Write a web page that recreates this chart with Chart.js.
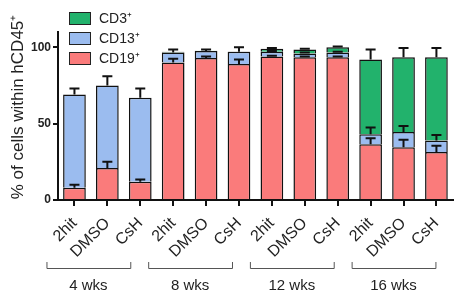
<!DOCTYPE html>
<html>
<head>
<meta charset="utf-8">
<script src="https://cdn.jsdelivr.net/npm/chart.js@4"></script>
<style>
  html, body { margin: 0; padding: 0; background: #fff; }
  #wrap { width: 458px; height: 297px; }
</style>
</head>
<body>
<div id="wrap"><canvas id="cellChart" width="458" height="297"></canvas></div>
<script>
// categories
const conditions = ['2hit', 'DMSO', 'CsH', '2hit', 'DMSO', 'CsH', '2hit', 'DMSO', 'CsH', '2hit', 'DMSO', 'CsH'];
const groups = ['4 wks', '8 wks', '12 wks', '16 wks'];
const yTicks = [0, 50, 100];

// stacked values (% of hCD45+)
const cd19 = [8, 21, 12, 90, 93, 89, 94, 93.5, 93.5, 36.5, 34.5, 31.5];
const cd13 = [61, 54, 55, 6.5, 4.5, 8, 3, 2.5, 3, 6.5, 10, 7.5];
const cd3 = [0, 0, 0, 0.5, 0.3, 0.3, 2, 2.5, 3.5, 49, 49, 54.5];

// upper error bars (SEM) for each segment
const err19 = [2, 4, 1.5, 2.5, 1, 3, 0.5, 0.5, 0.5, 4, 5, 4];
const err13 = [4, 6, 6, 2, 1, 3, 0.5, 0.5, 0.5, 4.5, 4, 3.5];
const err3 = [0, 0, 0, 0, 0, 0, 0.5, 0.5, 0.5, 6.5, 6, 6];

const FONT = '"Liberation Sans", Arial, sans-serif';
const TXT = '#222';

// error bars on top of every stacked segment
const errorBars = {
  id: 'errorBars',
  afterDatasetsDraw(chart) {
    const ctx = chart.ctx;
    const y = chart.scales.y;
    const errs = [err19, err13, err3];
    const vals = [cd19, cd13, cd3];
    ctx.save();
    ctx.strokeStyle = '#111';
    ctx.lineWidth = 2;
    for (let i = 0; i < conditions.length; i++) {
      let cum = 0;
      for (let d = 0; d < 3; d++) {
        cum += vals[d][i];
        const e = errs[d][i];
        if (!e) continue;
        const bar = chart.getDatasetMeta(d).data[i];
        const y0 = y.getPixelForValue(cum);
        const y1 = y.getPixelForValue(cum + e);
        ctx.beginPath();
        ctx.moveTo(bar.x, y0);
        ctx.lineTo(bar.x, y1);
        ctx.moveTo(bar.x - 5, y1);
        ctx.lineTo(bar.x + 5, y1);
        ctx.stroke();
      }
    }
    ctx.restore();
  }
};

// legend box, axis title, group brackets
const extras = {
  id: 'extras',
  afterDraw(chart) {
    const ctx = chart.ctx;
    const x = chart.scales.x;
    ctx.save();

    // legend
    const items = [['CD3\u207A', '#22b26c'], ['CD13\u207A', '#9bbcef'], ['CD19\u207A', '#fa7b7b']];
    ctx.font = '14px ' + FONT;
    ctx.textBaseline = 'middle';
    items.forEach((it, k) => {
      const top = 12 + k * 20;
      ctx.fillStyle = it[1];
      ctx.fillRect(69, top, 22, 13);
      ctx.strokeStyle = '#222';
      ctx.lineWidth = 1;
      ctx.strokeRect(69.5, top + 0.5, 21, 12);
      ctx.fillStyle = TXT;
      ctx.fillText(it[0], 99, top + 7);
    });

    // y title
    ctx.save();
    ctx.translate(18, 107);
    ctx.rotate(-Math.PI / 2);
    ctx.textAlign = 'center';
    ctx.textBaseline = 'middle';
    ctx.font = '17px ' + FONT;
    ctx.fillStyle = TXT;
    ctx.fillText('% of cells within hCD45\u207A', 0, 0);
    ctx.restore();

    // group brackets
    ctx.strokeStyle = '#555';
    ctx.lineWidth = 1;
    ctx.fillStyle = TXT;
    ctx.font = '15px ' + FONT;
    ctx.textAlign = 'center';
    groups.forEach((g, k) => {
      const l = x.getPixelForValue(k * 3) - 28 + k * 3;
      const r = x.getPixelForValue(k * 3 + 2) - 10 + k * 3;
      ctx.beginPath();
      ctx.moveTo(l + 0.5, 262);
      ctx.lineTo(l + 0.5, 268.5);
      ctx.lineTo(r + 0.5, 268.5);
      ctx.lineTo(r + 0.5, 262);
      ctx.stroke();
      ctx.fillText(g, (l + r) / 2, 286);
    });
    ctx.restore();
  }
};

const ctx = document.getElementById('cellChart').getContext('2d');
new Chart(ctx, {
  type: 'bar',
  data: {
    labels: conditions,
    datasets: [
      { label: 'CD19+', data: cd19, backgroundColor: '#fa7b7b' },
      { label: 'CD13+', data: cd13, backgroundColor: '#9bbcef' },
      { label: 'CD3+', data: cd3, backgroundColor: '#22b26c' }
    ].map(ds => Object.assign(ds, {
      borderColor: '#111',
      borderWidth: 1.5,
      categoryPercentage: 1,
      barPercentage: 0.69
    }))
  },
  options: {
    responsive: false,
    animation: false,
    devicePixelRatio: 1,
    layout: { padding: { top: 32, right: 0, left: 0, bottom: 0 } },
    plugins: { legend: { display: false }, tooltip: { enabled: false } },
    scales: {
      x: {
        stacked: true,
        afterFit: s => { s.height = 97; },
        border: { color: '#111', width: 2 },
        grid: { drawOnChartArea: false, offset: false, tickLength: 6, color: '#111', lineWidth: 2 },
        ticks: {
          autoSkip: false, minRotation: 45, maxRotation: 45, padding: 8,
          color: TXT, font: { family: FONT, size: 16 }
        }
      },
      y: {
        stacked: true,
        min: 0,
        max: 110,
        afterFit: s => { s.width = 58; },
        afterBuildTicks: s => { s.ticks = yTicks.map(v => ({ value: v })); },
        border: { color: '#111', width: 2 },
        grid: { drawOnChartArea: false, tickLength: 5, color: '#111', lineWidth: 2 },
        ticks: { padding: 2, color: TXT, font: { family: FONT, size: 12, weight: 'bold' } }
      }
    }
  },
  plugins: [errorBars, extras]
});
</script>
</body>
</html>
